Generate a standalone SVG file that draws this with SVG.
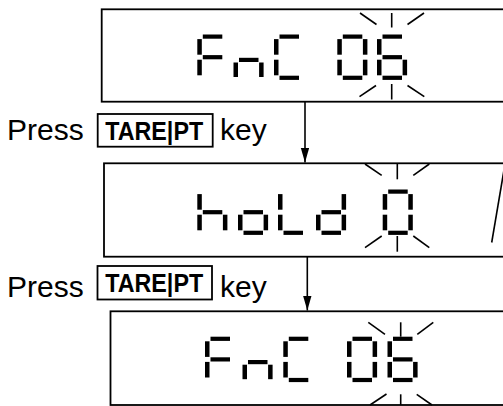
<svg xmlns="http://www.w3.org/2000/svg" xmlns:xlink="http://www.w3.org/1999/xlink" width="503" height="406" viewBox="0 0 503 406">
<style>
.frame{fill:#fff;stroke:#000;stroke-width:1.8}
.seg{fill:#000}
.ray{stroke:#000;stroke-width:1.6;fill:none}
.conn{stroke:#000;stroke-width:1.6;fill:none}
.lbl{font-family:"Liberation Sans",Arial,sans-serif;font-size:30px;fill:#000}
.key{font-family:"Liberation Sans",Arial,sans-serif;font-size:25px;font-weight:bold;fill:#000}
.keybox{fill:none;stroke:#000;stroke-width:1.8}
</style>
<defs>
<rect id="sh" width="19.5" height="4.2"/>
<rect id="sv" width="4.5" height="15.6"/>
<rect id="sn" width="4.5" height="14.5"/>
<marker id="ah" markerUnits="userSpaceOnUse" markerWidth="16" markerHeight="10" refX="15" refY="4.3" orient="auto">
<path d="M0,0 L15,4.3 L0,8.6 z" fill="#000"/>
</marker>
</defs>
<rect width="503" height="406" fill="#fff"/>

<g id="display1">
<rect class="frame" x="101.7" y="9.3" width="420" height="92.4"/>
<g class="seg">
<use xlink:href="#sh" x="202.8" y="34.5"/><use xlink:href="#sv" x="197.3" y="39.1"/><use xlink:href="#sh" x="202.8" y="55.1"/><use xlink:href="#sv" x="197.3" y="59.7"/>
<use xlink:href="#sh" x="239" y="57.8"/><use xlink:href="#sn" x="233.5" y="62.5"/><use xlink:href="#sn" x="259.1" y="62.5"/>
<use xlink:href="#sh" x="279.5" y="34.5"/><use xlink:href="#sv" x="274" y="39.1"/><use xlink:href="#sv" x="274" y="59.7"/><use xlink:href="#sh" x="279.5" y="75.7"/>
<use xlink:href="#sh" x="342.8" y="34.5"/><use xlink:href="#sv" x="337.3" y="39.1"/><use xlink:href="#sv" x="362.9" y="39.1"/><use xlink:href="#sv" x="337.3" y="59.7"/><use xlink:href="#sv" x="362.9" y="59.7"/><use xlink:href="#sh" x="342.8" y="75.7"/>
<use xlink:href="#sh" x="382.5" y="34.5"/><use xlink:href="#sv" x="377" y="39.1"/><use xlink:href="#sh" x="382.5" y="55.1"/><use xlink:href="#sv" x="377" y="59.7"/><use xlink:href="#sv" x="402.6" y="59.7"/><use xlink:href="#sh" x="382.5" y="75.7"/>
</g>
<g class="ray">
<line x1="360" y1="13" x2="376.5" y2="24.5"/><line x1="391.7" y1="13" x2="391.7" y2="27.5"/><line x1="424" y1="13" x2="407.5" y2="24.5"/>
<line x1="359.5" y1="96.7" x2="376" y2="85.5"/><line x1="391.7" y1="84" x2="391.7" y2="99.5"/><line x1="407.5" y1="85.5" x2="424.3" y2="96.7"/>
</g>
</g>

<g id="display2">
<rect class="frame" x="104" y="163.3" width="420" height="93.4"/>
<g class="seg">
<use xlink:href="#sv" x="197.3" y="194.1"/><use xlink:href="#sh" x="202.8" y="210.1"/><use xlink:href="#sv" x="197.3" y="214.7"/><use xlink:href="#sv" x="222.9" y="214.7"/>
<use xlink:href="#sh" x="243.5" y="210.1"/><use xlink:href="#sv" x="238" y="214.7"/><use xlink:href="#sv" x="263.6" y="214.7"/><use xlink:href="#sh" x="243.5" y="230.7"/>
<use xlink:href="#sv" x="278" y="194.1"/><use xlink:href="#sv" x="278" y="214.7"/><use xlink:href="#sh" x="283.5" y="230.7"/>
<use xlink:href="#sv" x="341.6" y="194.1"/><use xlink:href="#sh" x="321.5" y="210.1"/><use xlink:href="#sv" x="316" y="214.7"/><use xlink:href="#sv" x="341.6" y="214.7"/><use xlink:href="#sh" x="321.5" y="230.7"/>
<use xlink:href="#sh" x="388.2" y="189.5"/><use xlink:href="#sv" x="382.7" y="194.1"/><use xlink:href="#sv" x="408.3" y="194.1"/><use xlink:href="#sv" x="382.7" y="214.7"/><use xlink:href="#sv" x="408.3" y="214.7"/><use xlink:href="#sh" x="388.2" y="230.7"/>
</g>
<g class="ray">
<line x1="365" y1="164" x2="381.7" y2="175.3"/><line x1="397.3" y1="164" x2="397.3" y2="179.3"/><line x1="429.3" y1="164" x2="413.3" y2="175.3"/>
<line x1="365" y1="247.7" x2="381.7" y2="236"/><line x1="397.3" y1="236" x2="397.3" y2="251.7"/><line x1="413.3" y1="236" x2="429.3" y2="247.7"/>
<line x1="504" y1="170" x2="491.7" y2="242.5"/>
</g>
</g>

<g id="display3">
<rect class="frame" x="110.5" y="311.3" width="420" height="93.7"/>
<g class="seg">
<use xlink:href="#sh" x="210.5" y="336.7"/><use xlink:href="#sv" x="205" y="341.3"/><use xlink:href="#sh" x="210.5" y="357.3"/><use xlink:href="#sv" x="205" y="361.9"/>
<use xlink:href="#sh" x="248" y="360"/><use xlink:href="#sn" x="242.5" y="364.7"/><use xlink:href="#sn" x="268.1" y="364.7"/>
<use xlink:href="#sh" x="288.8" y="336.7"/><use xlink:href="#sv" x="283.3" y="341.3"/><use xlink:href="#sv" x="283.3" y="361.9"/><use xlink:href="#sh" x="288.8" y="377.9"/>
<use xlink:href="#sh" x="352.5" y="336.7"/><use xlink:href="#sv" x="347" y="341.3"/><use xlink:href="#sv" x="372.6" y="341.3"/><use xlink:href="#sv" x="347" y="361.9"/><use xlink:href="#sv" x="372.6" y="361.9"/><use xlink:href="#sh" x="352.5" y="377.9"/>
<use xlink:href="#sh" x="393" y="336.7"/><use xlink:href="#sv" x="387.5" y="341.3"/><use xlink:href="#sh" x="393" y="357.3"/><use xlink:href="#sv" x="387.5" y="361.9"/><use xlink:href="#sv" x="413.1" y="361.9"/><use xlink:href="#sh" x="393" y="377.9"/>
</g>
<g class="ray">
<line x1="368.3" y1="322.3" x2="385" y2="334.3"/><line x1="400.7" y1="322.3" x2="400.7" y2="336.7"/><line x1="433.3" y1="322.3" x2="417.3" y2="334.3"/>
<line x1="370" y1="405" x2="386.5" y2="394"/><line x1="400.7" y1="394.3" x2="400.7" y2="405"/><line x1="416.7" y1="394.3" x2="432" y2="405"/>
</g>
</g>

<g id="step1">
<text class="lbl" x="7" y="140">Press</text>
<rect class="keybox" x="97.7" y="114" width="115" height="32.7"/>
<text class="key" x="105.3" y="140" textLength="97.8" lengthAdjust="spacingAndGlyphs">TARE|PT</text>
<text class="lbl" x="220" y="140">key</text>
</g>

<g id="step2">
<text class="lbl" x="7" y="296.5">Press</text>
<rect class="keybox" x="97.5" y="266" width="114.5" height="33.5"/>
<text class="key" x="105.3" y="292" textLength="97.8" lengthAdjust="spacingAndGlyphs">TARE|PT</text>
<text class="lbl" x="220" y="296.5">key</text>
</g>

<g id="connectors">
<line class="conn" x1="305" y1="101.7" x2="305" y2="162.5" marker-end="url(#ah)"/>
<line class="conn" x1="307.3" y1="256.7" x2="307.3" y2="310.5" marker-end="url(#ah)"/>
</g>
</svg>
